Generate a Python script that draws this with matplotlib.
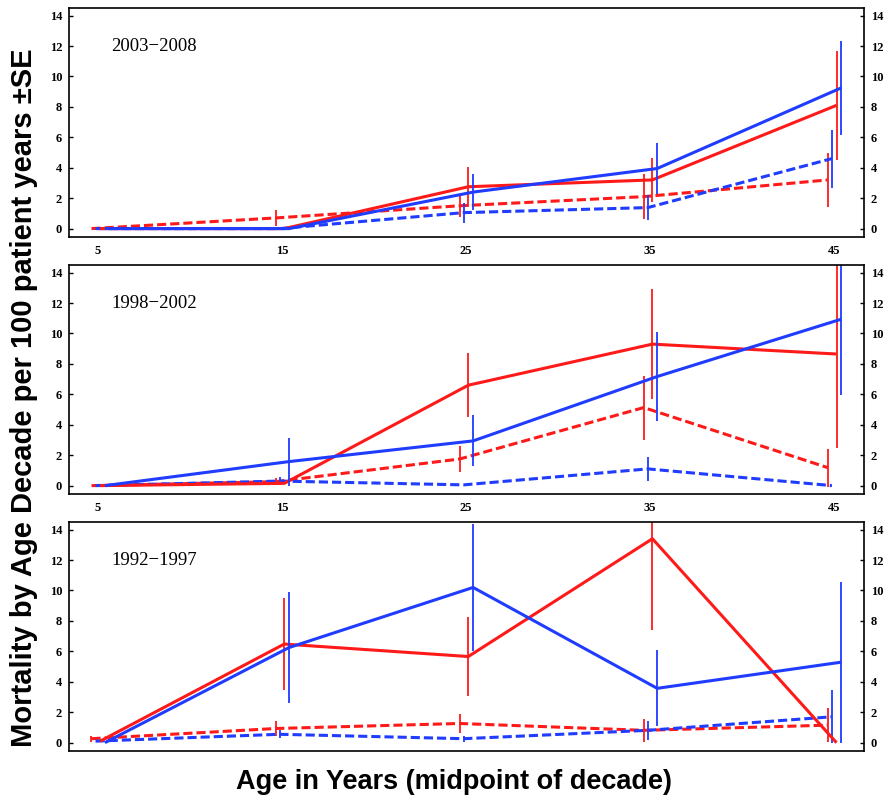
import numpy as np
import matplotlib
matplotlib.use('Agg')
import matplotlib.pyplot as plt

ages = [5, 15, 25, 35, 45]
periods = ['2003\u22122008', '1998\u22122002', '1992\u22121997']

# panel 1: 2003-2008
p1_red_solid = [0, 0, 2.75, 3.2, 8.1]
p1_red_solid_se = [0, 0, 1.3, 1.45, 3.6]
p1_blue_solid = [0, 0, 2.4, 3.95, 9.25]
p1_blue_solid_se = [0, 0, 1.2, 1.65, 3.1]
p1_red_dash = [0, 0.7, 1.5, 2.1, 3.2]
p1_red_dash_se = [0, 0.55, 0.75, 1.5, 1.8]
p1_blue_dash = [0, 0, 1.05, 1.38, 4.6]
p1_blue_dash_se = [0, 0, 0.65, 0.8, 1.9]

# panel 2: 1998-2002
p2_red_solid = [0, 0.15, 6.6, 9.3, 8.65]
p2_red_solid_se = [0, 0, 2.1, 3.6, 6.15]
p2_blue_solid = [0, 1.58, 2.94, 7.17, 10.94]
p2_blue_solid_se = [0, 1.58, 1.68, 2.9, 5.0]
p2_red_dash = [0, 0.26, 1.75, 5.13, 1.18]
p2_red_dash_se = [0, 0.25, 0.85, 2.1, 1.25]
p2_blue_dash = [0, 0.3, 0.05, 1.1, 0]
p2_blue_dash_se = [0, 0.25, 0, 0.8, 0]

# panel 3: 1992-1997
p3_red_solid = [0.1, 6.48, 5.66, 13.4, 0.0]
p3_red_solid_se = [0, 3.0, 2.57, 6.0, 0]
p3_blue_solid = [0, 6.25, 10.2, 3.57, 5.29]
p3_blue_solid_se = [0, 3.65, 4.2, 2.5, 5.3]
p3_red_dash = [0.26, 0.93, 1.26, 0.81, 1.15]
p3_red_dash_se = [0.2, 0.48, 0.62, 0.75, 1.1]
p3_blue_dash = [0.1, 0.55, 0.26, 0.81, 1.7]
p3_blue_dash_se = [0, 0.27, 0.2, 0.62, 1.75]

panels = [
    (p1_red_dash, p1_red_dash_se, p1_blue_dash, p1_blue_dash_se,
     p1_red_solid, p1_red_solid_se, p1_blue_solid, p1_blue_solid_se),
    (p2_red_dash, p2_red_dash_se, p2_blue_dash, p2_blue_dash_se,
     p2_red_solid, p2_red_solid_se, p2_blue_solid, p2_blue_solid_se),
    (p3_red_dash, p3_red_dash_se, p3_blue_dash, p3_blue_dash_se,
     p3_red_solid, p3_red_solid_se, p3_blue_solid, p3_blue_solid_se),
]

RED = '#ff1a1a'
BLUE = '#1f3cff'
# (colour, linestyle, x-offset) for red dash, blue dash, red solid, blue solid
styles = [(RED, (0, (3, 1.3)), -0.35), (BLUE, (0, (3, 1.3)), -0.13),
          (RED, '-', 0.12), (BLUE, '-', 0.38)]

fig = plt.figure(figsize=(8.85, 7.96), dpi=100)
bottoms = [0.7023, 0.3794, 0.0565]
tickfont = dict(family='Liberation Serif', weight='bold', size=9)

for k in range(3):
    ax = fig.add_axes([0.078, bottoms[k], 0.898, 0.2877])
    data = panels[k]
    for j in range(4):
        col, ls, off = styles[j]
        vals = data[2 * j]
        se = data[2 * j + 1]
        x = np.array(ages) + off
        ax.plot(x, vals, color=col, lw=2.2, linestyle=ls, solid_capstyle='butt')
        ax.errorbar(x, vals, yerr=se, fmt='none', ecolor=col, elinewidth=1.3, capsize=0)
    ax.set_xlim(3.43, 46.6)
    ax.set_ylim(-0.55, 14.5)
    ax.set_xticks(ages)
    ax.set_yticks(range(0, 15, 2))
    ax.tick_params(axis='y', direction='in', length=3, width=1, pad=5,
                   right=True, labelright=True)
    ax.tick_params(axis='x', direction='in', length=0, pad=6)
    for lab in ax.get_yticklabels() + ax.get_xticklabels():
        lab.set_fontproperties(matplotlib.font_manager.FontProperties(**tickfont))
    if k == 2:
        ax.set_xticklabels([])
    for s in ax.spines.values():
        s.set_linewidth(1.2)
    ax.text(0.053, 0.83, periods[k], transform=ax.transAxes, ha='left', va='center',
            family='Liberation Serif', fontsize=13.5)

fig.text(24 / 885, 1 - 398 / 796, 'Mortality by Age Decade per 100 patient years \u00b1SE',
         rotation=90, ha='center', va='center', family='Liberation Sans',
         weight='bold', fontsize=21)
fig.text(454 / 885, 1 - 782 / 796, 'Age in Years (midpoint of decade)',
         ha='center', va='center', family='Liberation Sans', weight='bold', fontsize=19.5)

fig.savefig('out.png', dpi=100)
